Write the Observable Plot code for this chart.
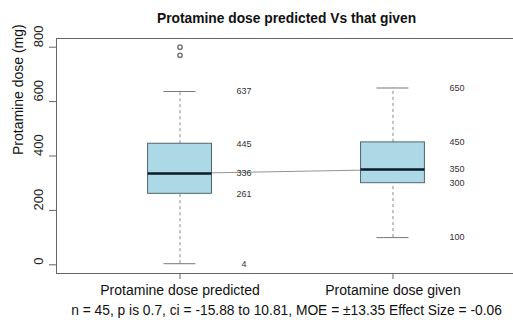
<!DOCTYPE html>
<html>
<head>
<meta charset="utf-8">
<script src="https://cdn.jsdelivr.net/npm/d3@7"></script>
<script src="https://cdn.jsdelivr.net/npm/@observablehq/plot@0.6"></script>
<style>
  html, body { margin: 0; padding: 0; background: #fff; }
  #chart svg { display: block; }
</style>
</head>
<body>
<div id="chart"></div>
<script>
// ---- data ----
const groups = ["Protamine dose predicted", "Protamine dose given"];
const positions = [1, 2];
const whiskerLow = [4, 100];
const q1 = [261, 300];
const medians = [336, 350];
const q3 = [445, 450];
const whiskerHigh = [637, 650];
const outlierGroup = [1, 1];
const outlierValues = [770, 800];
const yTicks = [0, 200, 400, 600, 800];
const titleText = "Protamine dose predicted Vs that given";
const yLabel = "Protamine dose (mg)";
const subtitleText = "n = 45, p is 0.7, ci = -15.88 to 10.81, MOE = \u00b113.35 Effect Size = -0.06";

const boxes = groups.map((g, i) => ({
  name: g, pos: positions[i], lo: whiskerLow[i], q1: q1[i], med: medians[i], q3: q3[i], hi: whiskerHigh[i]
}));
const outliers = outlierValues.map((v, i) => ({pos: outlierGroup[i], v}));
const labels = boxes.flatMap(b => [b.lo, b.q1, b.med, b.q3, b.hi].map(v => ({pos: b.pos, v})));

const halfBox = 0.15, halfCap = 0.075;
const font = "Liberation Sans, Arial, Helvetica, sans-serif";
const frameColor = "#666";

const chart = Plot.plot({
  width: 513,
  height: 320,
  marginTop: 38,
  marginBottom: 47,
  marginLeft: 56,
  marginRight: -3,
  style: {fontFamily: font, background: "#fff", color: "#222"},
  x: {domain: [0.42, 2.58], axis: null},
  y: {domain: [-32, 832], axis: null},
  marks: [
    // frame
    Plot.frame({stroke: frameColor, strokeWidth: 1}),
    // y axis ticks
    Plot.axisY(yTicks, {tickSize: 7, stroke: frameColor, tickFormat: () => "", label: null}),
    Plot.text(yTicks, {y: d => d, text: d => String(d), frameAnchor: "left", dx: -18, rotate: -90, fontSize: 13, fill: "#222"}),
    // y label
    Plot.text([yLabel], {frameAnchor: "left", dx: -38, dy: -1, rotate: -90, fontSize: 14, fill: "#111"}),
    // x axis
    Plot.axisX(positions, {tickSize: 6, stroke: frameColor, tickFormat: (d, i) => groups[i], fontSize: 14, tickPadding: 6, label: null, fill: "#111"}),
    // median connecting line
    Plot.line(boxes, {x: "pos", y: "med", stroke: "#777", strokeWidth: 0.8}),
    // whiskers
    Plot.ruleX(boxes, {x: "pos", y1: "q3", y2: "hi", stroke: "#888", strokeDasharray: "3,3"}),
    Plot.ruleX(boxes, {x: "pos", y1: "lo", y2: "q1", stroke: "#888", strokeDasharray: "3,3"}),
    Plot.ruleY(boxes, {y: "hi", x1: d => d.pos - halfCap, x2: d => d.pos + halfCap, stroke: "#777"}),
    Plot.ruleY(boxes, {y: "lo", x1: d => d.pos - halfCap, x2: d => d.pos + halfCap, stroke: "#777"}),
    // boxes
    Plot.rect(boxes, {x1: d => d.pos - halfBox, x2: d => d.pos + halfBox, y1: "q1", y2: "q3", fill: "#ADD8E6", stroke: "#4f6670", strokeWidth: 1}),
    Plot.ruleY(boxes, {y: "med", x1: d => d.pos - halfBox, x2: d => d.pos + halfBox, stroke: "#0d1a26", strokeWidth: 2.5}),
    // outliers
    Plot.dot(outliers, {x: "pos", y: "v", r: 2.2, stroke: "#777", fill: "none"}),
    // value labels
    Plot.text(labels, {x: "pos", y: "v", text: d => String(d.v), dx: 64, fontSize: 9, fill: "#333"}),
    // title
    Plot.text([titleText], {frameAnchor: "top", dy: -25, fontSize: 13.8, fontWeight: "bold", fill: "#111"}),
    // subtitle
    Plot.text([subtitleText], {frameAnchor: "bottom", dy: 41, fontSize: 13.8, fill: "#111"})
  ]
});
document.getElementById("chart").appendChild(chart);
</script>
</body>
</html>
